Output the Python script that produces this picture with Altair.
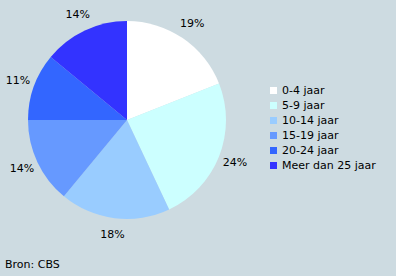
import altair as alt
import pandas as pd

categories = ["0-4 jaar", "5-9 jaar", "10-14 jaar", "15-19 jaar", "20-24 jaar", "Meer dan 25 jaar"]
values = [19, 24, 18, 14, 11, 14]
colors = ["#FFFFFF", "#CCFFFF", "#99CCFF", "#6699FF", "#3366FF", "#3333FF"]
source_text = "Bron: CBS"

df = pd.DataFrame({
    "cat": categories,
    "val": values,
    "idx": list(range(len(categories))),
    "label": [f"{v}%" for v in values],
})

FONT = "DejaVu Sans"
cx, cy = 127, 120

base = alt.Chart(df).encode(
    theta=alt.Theta("val:Q", stack=True),
    order=alt.Order("idx:Q"),
)

arcs = base.mark_arc(outerRadius=99, stroke=None).encode(
    x=alt.value(cx), y=alt.value(cy),
    color=alt.Color(
        "cat:N",
        scale=alt.Scale(domain=categories, range=colors),
        sort=categories,
        legend=alt.Legend(
            title=None, orient="none", legendX=268, legendY=85,
            symbolType="square", symbolSize=49, symbolStrokeWidth=0,
            labelFont=FONT, labelFontSize=11, labelColor="#000000",
            rowPadding=3, labelOffset=3, padding=0,
        ),
    ),
)

labels = base.mark_text(radius=116, font=FONT, fontSize=11, color="#000000").encode(
    x=alt.value(cx), y=alt.value(cy),
    text="label:N",
)

src = alt.Chart(pd.DataFrame({"t": [source_text]})).mark_text(
    align="left", baseline="middle", font=FONT, fontSize=11, color="#000000"
).encode(x=alt.value(5), y=alt.value(265), text="t:N")

chart = alt.layer(arcs, labels, src).properties(
    width=396, height=276,
    autosize=alt.AutoSizeParams(type="none"),
    padding=0,
    background="#CDDBE1",
).configure_view(stroke=None)

chart.save("out.html", embed_options={"renderer": "svg", "actions": False})
